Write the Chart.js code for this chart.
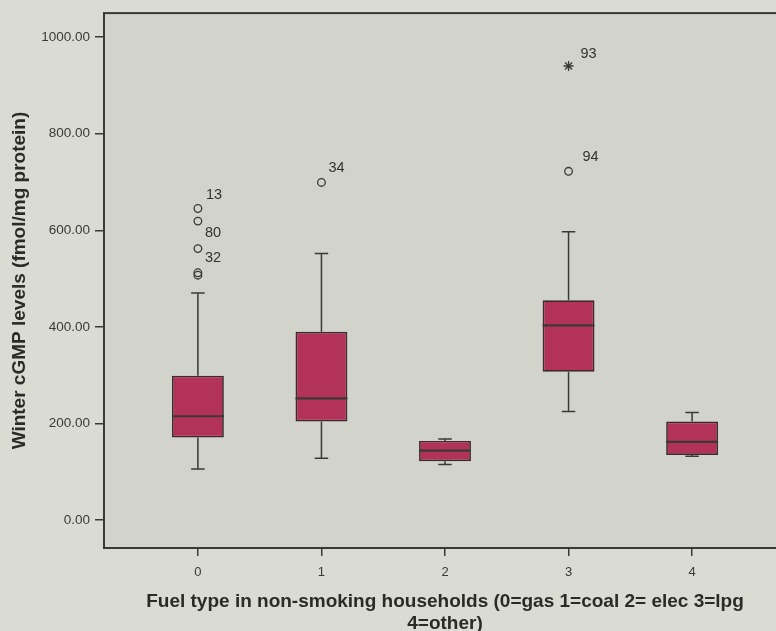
<!DOCTYPE html>
<html>
<head>
<meta charset="utf-8">
<script src="https://cdn.jsdelivr.net/npm/chart.js@4.4.1/dist/chart.umd.min.js"></script>
<style>
  html, body { margin: 0; padding: 0; background: #dadcd3; overflow: hidden; }
  #wrap { width: 776px; height: 631px; overflow: hidden; }
</style>
</head>
<body>
<div id="wrap"><canvas id="boxChart" width="800" height="640"></canvas></div>
<script>
// fuel type groups on the x axis
var fuelTypes = [0, 1, 2, 3, 4];

// box plot summary per group
var whiskerLow  = [106, 128, 115, 225, 132];
var q1          = [171, 204, 122, 307, 135];
var medians     = [215, 252, 144, 403, 162];
var q3          = [299, 390, 164, 455, 204];
var whiskerHigh = [470, 552, 168, 597, 223];

// outliers: group, value, case number, kind (o = outlier, * = extreme)
var outlierGroup = [0, 0, 0, 0, 0, 1, 3, 3];
var outlierValue = [645, 619, 562, 512, 507, 699, 722, 940];
var outlierCase  = ['13', '80', '32', '', '', '34', '94', '93'];
var outlierKind  = ['o', 'o', 'o', 'o', 'o', 'o', 'o', '*'];

var yTicks = [0, 200, 400, 600, 800, 1000];

var ink = '#3a3934';
var boxFill = '#b2325a';
// where each case number sits next to its point
var labelShift = [[8, -14], [7, 12], [7, 9], [0, 0], [0, 0], [7, -14], [14, -14], [12, -12]];

Chart.defaults.font.family = '"Liberation Sans", Arial, sans-serif';
Chart.defaults.color = '#3a3a36';

var boxParts = {
  id: 'boxParts',
  beforeDraw: function(chart) {
    var a = chart.chartArea, ctx = chart.ctx;
    ctx.save();
    ctx.fillStyle = '#d2d4cb';
    ctx.fillRect(a.left, a.top, a.right - a.left, a.bottom - a.top);
    ctx.restore();
  },
  afterDatasetsDraw: function(chart) {
    var ctx = chart.ctx, x = chart.scales.x, y = chart.scales.y, a = chart.chartArea;
    var bars = chart.getDatasetMeta(0).data;
    ctx.save();
    ctx.strokeStyle = ink;
    fuelTypes.forEach(function(f, i) {
      var cx = x.getPixelForValue(f);
      var half = bars[i].width / 2;
      var cap = half * 0.26;
      var yHi = y.getPixelForValue(whiskerHigh[i]);
      var yLo = y.getPixelForValue(whiskerLow[i]);
      ctx.lineWidth = 1.5;
      ctx.beginPath();
      ctx.moveTo(cx, y.getPixelForValue(q3[i]));
      ctx.lineTo(cx, yHi);
      ctx.moveTo(cx, y.getPixelForValue(q1[i]));
      ctx.lineTo(cx, yLo);
      ctx.moveTo(cx - cap, yHi);
      ctx.lineTo(cx + cap, yHi);
      ctx.moveTo(cx - cap, yLo);
      ctx.lineTo(cx + cap, yLo);
      ctx.stroke();
      var ym = y.getPixelForValue(medians[i]);
      ctx.lineWidth = 2.2;
      ctx.beginPath();
      ctx.moveTo(cx - half, ym);
      ctx.lineTo(cx + half, ym);
      ctx.stroke();
    });

    // case numbers next to outliers
    var pts = chart.getDatasetMeta(1).data;
    ctx.fillStyle = '#33322e';
    ctx.font = '14.5px "Liberation Sans", Arial, sans-serif';
    ctx.textBaseline = 'middle';
    ctx.textAlign = 'left';
    pts.forEach(function(p, j) {
      if (outlierCase[j]) {
        ctx.fillText(outlierCase[j], p.x + labelShift[j][0], p.y + labelShift[j][1]);
      }
    });

    // frame round the plot
    ctx.lineWidth = 2;
    ctx.strokeStyle = ink;
    ctx.strokeRect(a.left, a.top, a.right - a.left, a.bottom - a.top);
    ctx.restore();
  }
};

var ctx = document.getElementById('boxChart').getContext('2d');
new Chart(ctx, {
  type: 'bar',
  data: {
    datasets: [{
      data: fuelTypes.map(function(f, i) { return {x: f, y: [q1[i], q3[i]]}; }),
      backgroundColor: boxFill,
      borderColor: '#3d2a30',
      borderWidth: 1.7,
      borderSkipped: false,
      barPercentage: 0.42,
      categoryPercentage: 1
    }, {
      type: 'scatter',
      data: outlierValue.map(function(v, j) { return {x: outlierGroup[j], y: v}; }),
      pointStyle: outlierKind.map(function(k) { return k === '*' ? 'star' : 'circle'; }),
      pointRadius: outlierKind.map(function(k) { return k === '*' ? 5 : 3.8; }),
      pointBorderWidth: 1.3,
      pointBorderColor: ink,
      pointBackgroundColor: 'rgba(0,0,0,0)',
      showLine: false
    }]
  },
  options: {
    responsive: false,
    animation: false,
    events: [],
    layout: {padding: {top: 11, right: 14, bottom: 5, left: 0}},
    plugins: {
      legend: {display: false},
      tooltip: {enabled: false}
    },
    scales: {
      x: {
        type: 'linear',
        offset: false,
        min: -0.76,
        max: 4.76,
        afterFit: function(s) { s.height = 87; },
        afterBuildTicks: function(s) { s.ticks = fuelTypes.map(function(v) { return {value: v}; }); },
        ticks: {
          font: {size: 13},
          padding: 9,
          callback: function(v) { return String(v); }
        },
        grid: {drawOnChartArea: false, offset: false, color: ink, tickLength: 8, lineWidth: 1.5},
        border: {display: false},
        title: {
          display: true,
          text: ['Fuel type in non-smoking households (0=gas 1=coal 2= elec 3=lpg', '4=other)'],
          font: {size: 19, weight: 'bold', lineHeight: '22px'},
          color: '#2b2a27',
          padding: {top: 0, bottom: 0}
        }
      },
      y: {
        min: -57.7,
        max: 1049.5,
        afterFit: function(s) { s.width = 104; },
        afterBuildTicks: function(s) { s.ticks = yTicks.map(function(v) { return {value: v}; }); },
        ticks: {
          font: {size: 13.5},
          padding: 5,
          callback: function(v) { return v.toFixed(2); }
        },
        grid: {drawOnChartArea: false, color: ink, tickLength: 9, lineWidth: 1.5},
        border: {display: false},
        title: {
          display: true,
          text: 'Winter cGMP levels (fmol/mg protein)',
          font: {size: 19, weight: 'bold'},
          color: '#2b2a27',
          padding: {top: 8, bottom: 0}
        }
      }
    }
  },
  plugins: [boxParts]
});
</script>
</body>
</html>
